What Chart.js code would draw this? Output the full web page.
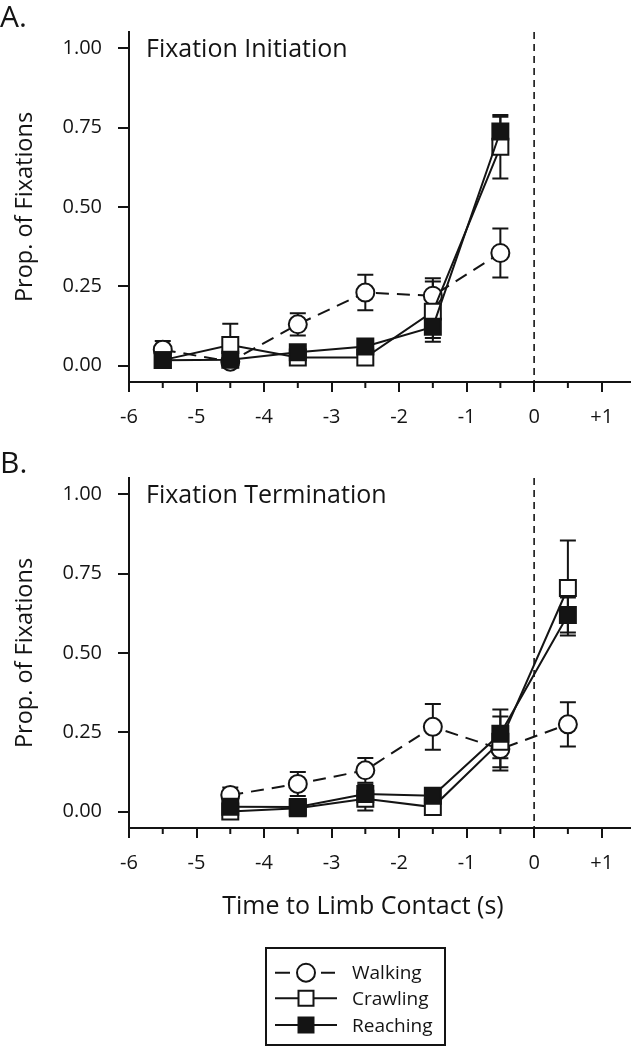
<!DOCTYPE html>
<html>
<head>
<meta charset="utf-8">
<script src="https://cdn.jsdelivr.net/npm/chart.js@4.4.1/dist/chart.umd.min.js"></script>
<style>
  body { margin: 0; background: #fff; width: 631px; height: 1050px; position: relative; overflow: hidden; }
  #chartA { position: absolute; left: 0; top: 0; }
  #chartB { position: absolute; left: 0; top: 446px; }
</style>
</head>
<body>
<canvas id="chartA" width="631" height="440"></canvas>
<canvas id="chartB" width="631" height="604"></canvas>
<script>
// time bins (s, relative to limb contact)
const timesA = [-5.5, -4.5, -3.5, -2.5, -1.5, -0.5];
const timesB = [-4.5, -3.5, -2.5, -1.5, -0.5, 0.5];
const seriesNames = ['Walking', 'Crawling', 'Reaching'];

// A. fixation initiation
const walkingA  = [0.050, 0.012, 0.130, 0.230, 0.220, 0.355];
const crawlingA = [0.017, 0.065, 0.025, 0.025, 0.170, 0.690];
const reachingA = [0.017, 0.018, 0.042, 0.060, 0.122, 0.738];
const walkingErrA  = [0.027, 0.010, 0.035, 0.056, 0.055, 0.077];
const crawlingErrA = [0.010, 0.067, 0.010, 0.010, 0.095, 0.100];
const reachingErrA = [0.010, 0.010, 0.010, 0.015, 0.035, 0.047];

// B. fixation termination
const walkingB  = [0.052, 0.087, 0.130, 0.267, 0.197, 0.275];
const crawlingB = [0.000, 0.010, 0.040, 0.014, 0.220, 0.705];
const reachingB = [0.015, 0.014, 0.055, 0.050, 0.245, 0.620];
const walkingErrB  = [0.024, 0.038, 0.039, 0.072, 0.068, 0.070];
const crawlingErrB = [0.010, 0.010, 0.037, 0.010, 0.080, 0.150];
const reachingErrB = [0.010, 0.010, 0.030, 0.010, 0.077, 0.055];

const contactTime = 0;

const ink = '#141414';
const fontFamily = '"Open Sans", sans-serif';
Chart.defaults.font.family = fontFamily;
Chart.defaults.color = ink;

const styles = [
  { dash: [13, 8], pointStyle: 'circle', radius: 9, fill: '#fff', order: 3 },
  { dash: [], pointStyle: 'rect', radius: 11.3, fill: '#fff', order: 2 },
  { dash: [], pointStyle: 'rect', radius: 11.3, fill: ink, order: 1 }
];

function buildDatasets(times, values, errors) {
  return seriesNames.map((name, s) => ({
    label: name,
    data: times.map((t, i) => ({ x: t, y: values[s][i] })),
    errors: errors[s],
    showLine: true,
    borderColor: ink,
    borderWidth: 2,
    borderDash: styles[s].dash,
    pointStyle: styles[s].pointStyle,
    pointRadius: styles[s].radius,
    pointHoverRadius: styles[s].radius,
    pointBackgroundColor: styles[s].fill,
    pointBorderColor: ink,
    pointBorderWidth: 2,
    order: styles[s].order
  }));
}

const errorBars = {
  id: 'errorBars',
  beforeDatasetsDraw(chart) {
    const { ctx, scales: { y } } = chart;
    ctx.save();
    ctx.strokeStyle = ink;
    ctx.lineWidth = 2;
    chart.data.datasets.forEach((ds, d) => {
      const meta = chart.getDatasetMeta(d);
      ds.errors.forEach((e, i) => {
        const px = meta.data[i].x;
        const v = ds.data[i].y;
        const top = y.getPixelForValue(v + e);
        const bot = y.getPixelForValue(v - e);
        ctx.beginPath();
        ctx.moveTo(px, top); ctx.lineTo(px, bot);
        ctx.moveTo(px - 8, top); ctx.lineTo(px + 8, top);
        ctx.moveTo(px - 8, bot); ctx.lineTo(px + 8, bot);
        ctx.stroke();
      });
    });
    // dashed line at limb contact
    const x0 = chart.scales.x.getPixelForValue(contactTime);
    ctx.lineWidth = 1.6;
    ctx.setLineDash([7, 5]);
    ctx.beginPath();
    ctx.moveTo(x0, chart.chartArea.top);
    ctx.lineTo(x0, chart.chartArea.bottom);
    ctx.stroke();
    ctx.restore();
  }
};

const minorTicks = {
  id: 'minorTicks',
  afterDraw(chart) {
    const { ctx, scales: { x } } = chart;
    ctx.save();
    ctx.strokeStyle = ink;
    ctx.lineWidth = 2;
    for (let v = Math.ceil(x.min) + 0.5; v < x.max; v += 1) {
      const px = x.getPixelForValue(v);
      ctx.beginPath();
      ctx.moveTo(px, x.top);
      ctx.lineTo(px, x.top + 6);
      ctx.stroke();
    }
    ctx.restore();
  }
};

const panelText = {
  id: 'panelText',
  afterDraw(chart, args, opts) {
    const { ctx } = chart;
    ctx.save();
    ctx.fillStyle = ink;
    ctx.textBaseline = 'alphabetic';
    ctx.textAlign = 'left';
    ctx.font = '30px ' + fontFamily;
    ctx.fillText(opts.letter, 0, 27);
    ctx.font = '25px ' + fontFamily;
    ctx.fillText(opts.title, 146, 57);
    if (opts.xTitle) {
      ctx.textAlign = 'center';
      ctx.fillText(opts.xTitle, 363, 468);
    }
    ctx.restore();
  }
};

const seriesLegend = {
  id: 'seriesLegend',
  afterDraw(chart, args, opts) {
    if (!opts.display) return;
    const { ctx } = chart;
    const box = { left: 266, top: 502, right: 445, bottom: 599 };
    ctx.save();
    ctx.strokeStyle = ink;
    ctx.lineWidth = 2;
    ctx.strokeRect(box.left, box.top, box.right - box.left, box.bottom - box.top);
    const rows = [526.7, 552.3, 579];
    chart.data.datasets.forEach((ds, d) => {
      const cy = rows[d];
      const cx = 306;
      ctx.lineWidth = 2;
      ctx.strokeStyle = ink;
      ctx.beginPath();
      if (ds.borderDash.length) {
        ctx.moveTo(275, cy); ctx.lineTo(290, cy);
        ctx.moveTo(321, cy); ctx.lineTo(335, cy);
      } else {
        ctx.moveTo(275, cy); ctx.lineTo(337, cy);
      }
      ctx.stroke();
      ctx.fillStyle = ds.pointBackgroundColor;
      ctx.strokeStyle = ds.pointBorderColor;
      ctx.lineWidth = ds.pointBorderWidth;
      Chart.helpers.drawPoint(ctx, {
        pointStyle: ds.pointStyle, rotation: 0,
        radius: ds.pointStyle === 'rect' ? 10.6 : 9, borderWidth: 2
      }, cx, cy);
      ctx.fillStyle = ink;
      ctx.font = '19px ' + fontFamily;
      ctx.textAlign = 'left';
      ctx.textBaseline = 'alphabetic';
      ctx.fillText(ds.label, 352, cy + 6.5);
    });
    ctx.restore();
  }
};

function makeChart(canvasId, times, values, errors, textOpts, bottomPad, withLegend) {
  return new Chart(document.getElementById(canvasId), {
    type: 'scatter',
    data: { datasets: buildDatasets(times, values, errors) },
    options: {
      responsive: false,
      animation: false,
      layout: { autoPadding: false, padding: { top: 32, right: 1, left: 0, bottom: bottomPad } },
      plugins: {
        legend: { display: false },
        tooltip: { enabled: false },
        panelText: textOpts,
        seriesLegend: { display: withLegend }
      },
      scales: {
        x: {
          type: 'linear',
          min: -6,
          max: 1.42,
          border: { color: ink, width: 2 },
          grid: { drawOnChartArea: false, tickLength: 10, color: ink, lineWidth: 2 },
          ticks: {
            stepSize: 1,
            includeBounds: false,
            autoSkip: false,
            maxRotation: 0,
            padding: 13,
            color: ink,
            font: { size: 20 },
            callback: v => (v > 0 ? '+' + v : String(v))
          },
          afterFit: s => { s.height = 58; }
        },
        y: {
          min: -0.052,
          max: 1.052,
          border: { color: ink, width: 2 },
          grid: { drawOnChartArea: false, tickLength: 11, color: ink, lineWidth: 2 },
          ticks: {
            stepSize: 0.25,
            includeBounds: false,
            padding: 16,
            color: ink,
            font: { size: 20 },
            callback: v => v.toFixed(2)
          },
          title: {
            display: true,
            text: 'Prop. of Fixations',
            color: ink,
            font: { size: 23.5 },
            padding: { top: 11.5, bottom: 0 }
          },
          afterFit: s => { s.width = 129; }
        }
      }
    },
    plugins: [errorBars, minorTicks, panelText, seriesLegend]
  });
}

makeChart('chartA', timesA,
  [walkingA, crawlingA, reachingA],
  [walkingErrA, crawlingErrA, reachingErrA],
  { letter: 'A.', title: 'Fixation Initiation' }, 0, false);

makeChart('chartB', timesB,
  [walkingB, crawlingB, reachingB],
  [walkingErrB, crawlingErrB, reachingErrB],
  { letter: 'B.', title: 'Fixation Termination', xTitle: 'Time to Limb Contact (s)' }, 164, true);
</script>
</body>
</html>
